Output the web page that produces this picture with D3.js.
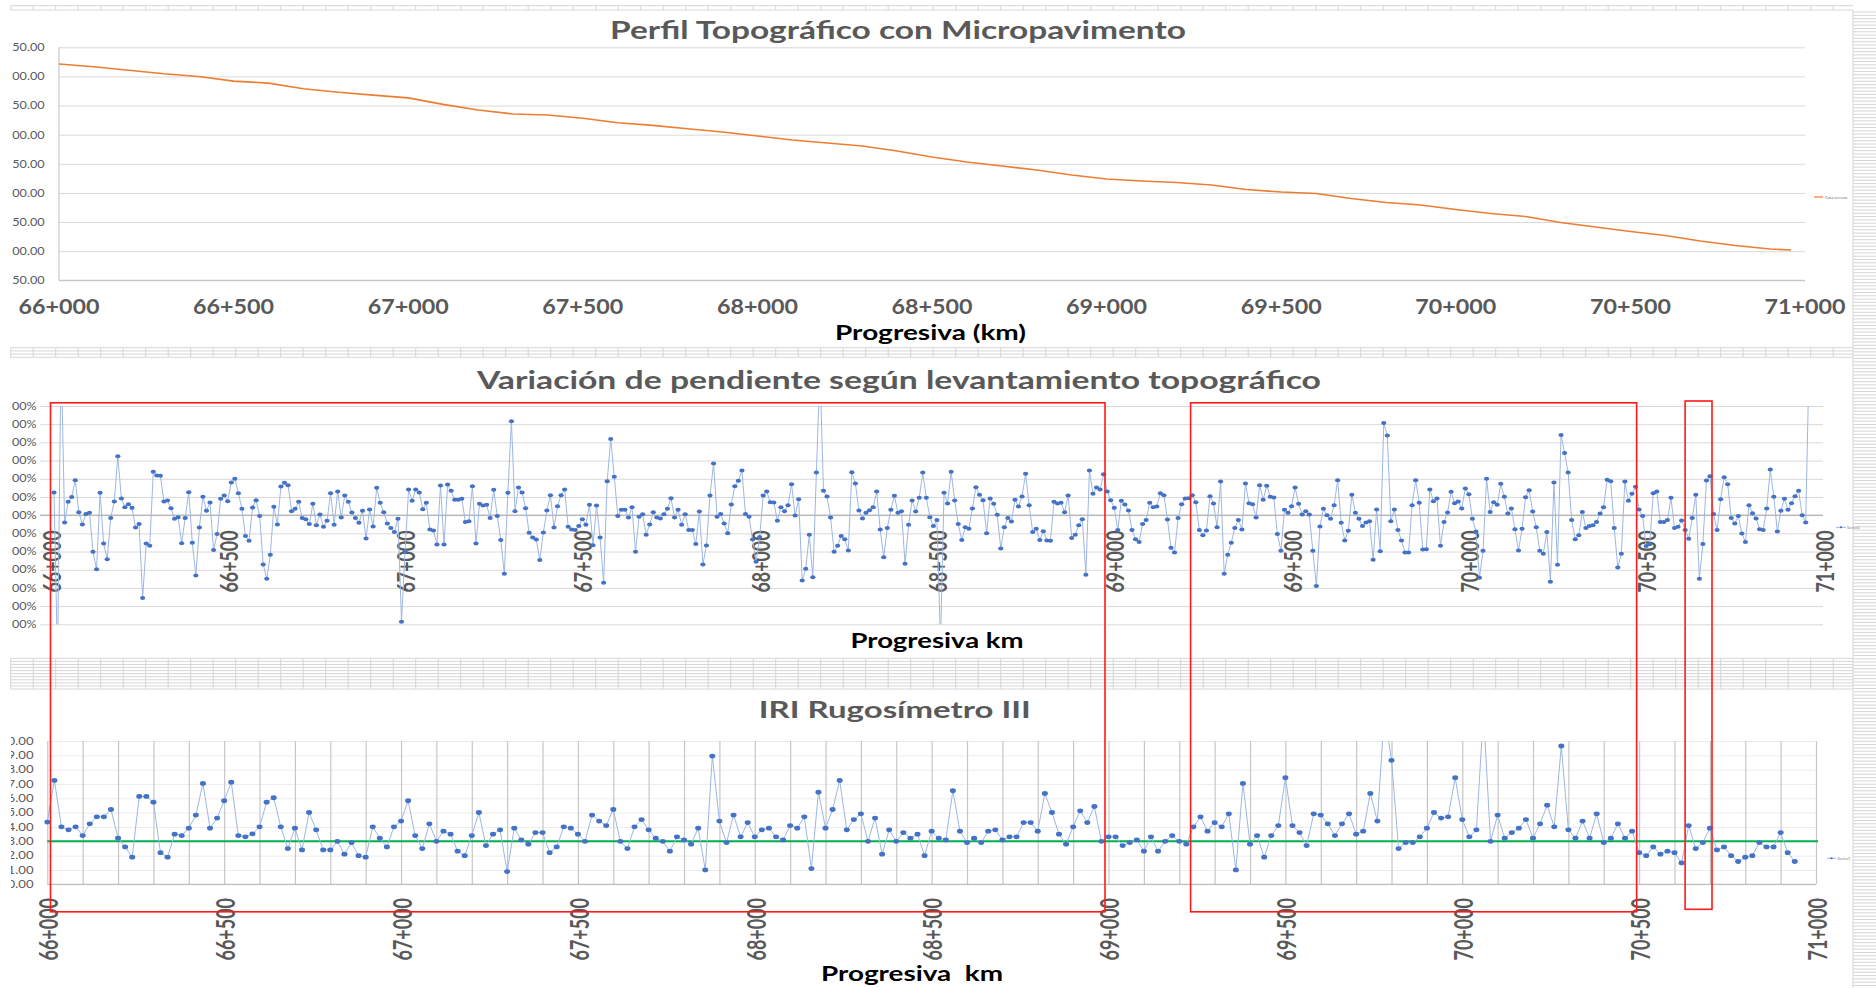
<!DOCTYPE html>
<html>
<head>
  <meta charset="utf-8">
  <script src="https://d3js.org/d3.v7.min.js"></script>
  <style>
  html, body {
    margin: 0px;
    padding: 0px;
    background: #fff;
  }
  svg {
    display: block;
    font-family: Lato, "Open Sans", sans-serif;
  }
  </style>
</head>
<body>
  <svg id="chart" width="1876" height="988"></svg>
  <script>

  // ---- data ----
  var kmTicks = [66000, 66500, 67000, 67500, 68000, 68500, 69000, 69500, 70000, 70500, 71000];

  // top chart: terrain elevation (m) along the road
  var elevStations = [66000, 66100, 66200, 66300, 66400, 66500, 66600, 66700, 66800, 66900,
    67000, 67100, 67200, 67300, 67400, 67500, 67600, 67700, 67800, 67900,
    68000, 68100, 68200, 68300, 68400, 68500, 68600, 68700, 68800, 68900,
    69000, 69100, 69200, 69300, 69400, 69500, 69600, 69700, 69800, 69900,
    70000, 70100, 70200, 70300, 70400, 70500, 70600, 70700, 70800, 70900, 70960];
  var elevValues = [2821.3, 2816.7, 2810.7, 2804.5, 2800.0, 2792.0, 2788.5, 2778.9, 2772.7, 2767.9,
    2763.1, 2752.0, 2742.4, 2735.5, 2733.8, 2728.1, 2720.4, 2715.9, 2710.1, 2704.6,
    2697.7, 2690.9, 2685.7, 2680.6, 2672.0, 2661.7, 2653.1, 2646.2, 2639.3, 2630.8,
    2623.9, 2620.5, 2617.9, 2613.6, 2605.9, 2601.6, 2599.0, 2590.4, 2583.6, 2579.3,
    2571.6, 2564.7, 2559.5, 2549.2, 2541.5, 2533.8, 2526.9, 2517.5, 2509.8, 2503.7, 2502.0];
  var elevTicks = [2450, 2500, 2550, 2600, 2650, 2700, 2750, 2800, 2850];

  // middle chart: slope variation (%) every 10 m from 66+000
  var slopeStart = 66000, slopeStep = 10;
  var slopeValues = [
    1.25, -8, 9, -0.4, 0.73, 1.0, 1.92, 0.16, -0.51, 0.07,
    0.13, -2.01, -2.97, 1.23, -1.56, -2.42, -0.15, 0.75, 3.24, 0.92,
    0.44, 0.6, 0.4, -0.68, -0.48, -4.56, -1.56, -1.68, 2.38, 2.18,
    2.16, 0.75, 0.81, 0.38, -0.2, -0.11, -1.54, -0.16, 1.26, -1.52,
    -3.32, -0.68, 1.01, 0.24, 0.7, -1.92, -1.04, 0.9, 1.08, 0.77,
    1.79, 2.0, 1.21, 0.35, -1.15, -1.41, 0.42, 0.82, -0.05, -2.71,
    -3.5, -2.18, 0.46, -0.51, 1.58, 1.78, 1.65, 0.22, 0.35, 0.73,
    -0.16, -0.22, -0.48, 0.62, -0.55, 0.04, -0.64, -0.31, 1.21, -0.53,
    1.3, -0.13, 1.08, 0.73, 0.15, -0.16, -0.42, 0.24, -1.28, 0.31,
    -0.62, 1.5, 0.68, 0.16, -0.46, -0.71, -0.92, -0.2, -5.86, -2.0,
    1.41, 0.79, 1.41, 1.25, 0.33, 0.68, -0.79, -0.84, -1.61, 1.63,
    -1.61, 1.68, 1.34, 0.84, 0.84, 0.9, -0.37, -0.33, 1.59, -1.56,
    0.62, 0.53, 0.57, -0.15, 1.39, -0.04, -1.37, -3.22, 1.23, 5.16,
    0.22, 1.52, 1.25, 0.38, -0.97, -1.23, -1.34, -2.47, -0.95, 0.26,
    1.1, -0.68, 0.49, 1.1, 1.41, -0.64, -0.79, -0.81, -0.6, -0.22,
    -0.53, 0.57, -1.65, 0.53, -1.23, -3.72, 1.87, 4.19, 2.11, -0.05,
    0.29, 0.29, -0.13, 0.44, -2.01, -0.09, 0.05, -1.08, -0.51, 0.16,
    -0.13, -0.18, 0.05, 0.35, 0.93, -0.13, 0.29, -0.53, 0.05, -0.81,
    -0.81, -1.58, 0.2, -2.71, -1.67, 1.08, 2.84, -0.09, 0.07, -0.46,
    -0.99, 0.59, 1.59, 1.89, 2.45, 0.07, -0.09, -1.34, -2.56, -1.2,
    1.08, 1.3, 0.71, 0.7, -0.31, 0.44, 0.22, 0.55, 1.7, -0.02,
    0.88, -3.59, -2.95, -1.08, -3.42, 2.34, 8, 1.34, 1.03, -0.13,
    -2.01, -1.68, -1.14, -1.32, -1.94, 2.36, 1.74, 0.26, -0.18, 0.13,
    0.27, 0.44, 1.3, -0.79, -2.31, -0.7, 0.29, 1.06, 0.13, 0.22,
    -2.67, -0.53, 0.81, 0.2, 0.95, 2.34, 0.95, -0.11, -0.6, -0.27,
    -7, 1.23, 0.64, 2.38, 0.81, -0.49, -1.36, -0.66, -0.75, 0.37,
    1.54, 1.12, 0.82, -0.99, 0.92, 0.62, 0.02, -1.83, -0.66, -0.15,
    -0.35, 0.84, 0.48, 1.03, 2.27, 0.55, -0.93, -0.75, -1.36, -0.88,
    -1.39, -1.41, 0.73, 0.64, 0.68, 0.16, 1.08, -1.25, -1.08, -0.55,
    -0.22, -3.28, 2.45, 1.17, 1.52, 1.41, 2.25, 1.3, 0.82, 0.4,
    -0.81, 0.79, 0.59, 0.26, -0.82, -1.32, -1.48, -0.49, -0.27, 0.68,
    0.44, 0.48, 1.21, 1.1, -0.24, -1.79, -2.05, -0.16, 0.6, 0.92,
    0.93, 1.1, 0.71, -0.82, -1.1, -0.84, 1.04, 0.64, -0.66, 1.85,
    -3.22, -2.18, -1.52, -0.7, -0.26, -0.79, 1.74, 0.66, 0.6, -0.13,
    1.65, 0.84, 1.61, 1.01, 0.97, -1.03, -1.96, 0.29, 0.13, 0.49,
    1.52, 0.62, 0.04, 0.22, 0.04, -1.96, -3.9, -0.62, 0.35, 0,
    -0.2, 0.55, 1.92, -0.42, -1.39, -0.86, 1.12, 0.13, -0.2, -0.6,
    -0.4, -0.33, -2.45, 0.31, -1.98, 5.07, 4.38, -0.33, 0.31, -0.82,
    -1.39, -2.05, -2.05, 0.55, 1.92, 0.68, -1.89, -1.87, 1.41, 0.77,
    0.92, -1.68, -0.38, 0.15, 1.28, 0.66, 0.75, 0.37, 1.47, 1.15,
    -0.2, -0.9, -3.44, -1.96, 2.0, 0.18, 0.71, 0.57, 1.72, 1.01,
    0.09, 0.37, -0.77, -1.94, -0.75, 0.99, 1.37, 0.2, -0.66, -1.96,
    -2.12, -0.92, -3.66, 1.79, -2.73, 4.41, 3.41, 2.34, -0.27, -1.32,
    -1.1, 0.18, -0.7, -0.6, -0.55, -0.37, 0.09, 0.44, 1.94, 1.87,
    -0.7, -2.88, -2.12, 1.85, 0.79, 1.17, 1.56, 0.31, -0.05, -1.7,
    -1.6, 1.21, 1.3, -0.38, -0.38, -0.27, 0.95, -0.7, -0.64, -0.29,
    -0.81, -1.3, -0.15, 1.12, -3.5, -1.58, 1.9, 2.14, 0.07, -0.82,
    0.88, 2.09, 1.7, -0.16, -0.46, -0.05, -1.01, -1.47, 0.55, 0.11,
    -0.18, -0.77, -0.82, 0.37, 2.51, 1.01, -0.9, 0.24, 0.9, 0.29,
    0.66, 1.04, 1.34, 0, -0.4, 9];
  var slopeTicks = [-6, -5, -4, -3, -2, -1, 0, 1, 2, 3, 4, 5, 6];

  // bottom chart: IRI (m/km) every 20 m from 66+000, limit line at 3.0
  var iriStart = 66000, iriStep = 20;
  var iriValues = [
    4.34, 7.25, 4.01, 3.8, 4.01, 3.4, 4.22, 4.71, 4.71, 5.22,
    3.22, 2.61, 1.89, 6.13, 6.13, 5.73, 2.21, 1.89, 3.5, 3.4,
    3.92, 4.83, 7.04, 3.92, 4.62, 5.83, 7.13, 3.4, 3.31, 3.52,
    4.01, 5.73, 6.04, 4.01, 2.49, 3.92, 2.4, 5.01, 3.8, 2.4,
    2.4, 3.0, 2.1, 2.91, 2.0, 1.89, 4.01, 3.22, 2.61, 4.01,
    4.41, 5.83, 3.4, 2.49, 4.22, 3.0, 3.71, 3.5, 2.31, 2.0,
    3.4, 5.01, 2.7, 3.5, 3.8, 0.89, 3.92, 3.1, 2.8, 3.61,
    3.61, 2.21, 2.61, 4.01, 3.92, 3.5, 3.0, 4.83, 4.41, 4.1,
    5.22, 3.0, 2.49, 4.01, 4.52, 3.8, 3.22, 3.0, 2.31, 3.31,
    3.1, 2.8, 3.92, 1.0, 8.95, 4.41, 2.91, 4.83, 3.31, 4.31,
    3.31, 3.8, 3.92, 3.31, 3.1, 4.1, 3.92, 4.71, 1.1, 6.43,
    3.92, 5.22, 7.25, 3.8, 4.52, 4.92, 3.0, 4.62, 2.1, 3.8,
    3.0, 3.61, 3.22, 3.5, 2.0, 3.71, 3.22, 3.1, 6.53, 3.71,
    2.91, 3.22, 2.91, 3.71, 3.8, 3.1, 3.31, 3.31, 4.31, 4.31,
    3.71, 6.34, 5.01, 3.5, 2.8, 4.01, 5.13, 4.31, 5.43, 3.0,
    3.31, 3.31, 2.7, 2.91, 3.1, 2.31, 3.31, 2.31, 3.0, 3.4,
    3.0, 2.8, 4.01, 4.71, 3.71, 4.31, 4.01, 4.92, 1.0, 7.04,
    2.8, 3.4, 1.89, 3.4, 4.1, 7.44, 4.1, 3.61, 2.7, 4.92,
    4.83, 4.22, 3.4, 4.22, 4.92, 3.5, 3.71, 6.34, 4.41, 12,
    8.65, 2.49, 2.91, 2.91, 3.31, 3.92, 5.01, 4.62, 4.71, 7.44,
    4.52, 3.31, 3.8, 12, 3.0, 4.83, 3.22, 3.61, 3.92, 4.52,
    3.22, 4.22, 5.52, 4.01, 9.65, 3.8, 3.22, 4.41, 3.22, 4.92,
    2.91, 3.22, 4.22, 3.22, 3.71, 2.21, 2.0, 2.61, 2.1, 2.31,
    2.21, 1.49, 4.1, 2.49, 2.91, 3.92, 2.4, 2.61, 2.0, 1.59,
    1.89, 2.0, 2.91, 2.61, 2.61, 3.61, 2.21, 1.59];
  var iriLimit = 3.0;
  var iriTicks = [0, 1, 2, 3, 4, 5, 6, 7, 8, 9, 10];

  // red boxes drawn over the charts (start, end station on IRI axis)
  var highlightBoxes = [[66009, 68990], [69232, 70493], [70630, 70706]];

  var slopeData = slopeValues.map(function(v, i) { return [slopeStart + i * slopeStep, v]; });
  var iriData = iriValues.map(function(v, i) { return [iriStart + i * iriStep, v]; });

  function kmFmt(d) {
    return Math.floor(d / 1000) + "+" + d3.format("03")(d % 1000);
  }

  var svg = d3.select("#chart");
  var GREY = "#595959";
  var SX = 1.25; // the screenshot is a bit stretched sideways

  svg.append("rect").attr("width", 1876).attr("height", 988).attr("fill", "#fff");

  // ---- spreadsheet cells peeking between the charts ----
  var sheet = svg.append("g").attr("stroke", "#d6d6d6").attr("stroke-width", 1);
  var strips = [[5.7, 10, 2], [347.7, 357.3, 4], [658.3, 689, 11]];
  strips.forEach(function(s) {
    d3.range(s[2]).forEach(function(k) {
      var y = s[0] + k * (s[1] - s[0]) / (s[2] - 1);
      sheet.append("line").attr("x1", 10.7).attr("x2", 1853).attr("y1", y).attr("y2", y);
    });
    d3.range(10.7, 1853, 22.5).forEach(function(x) {
      sheet.append("line").attr("x1", x).attr("x2", x).attr("y1", s[0]).attr("y2", s[1]);
    });
  });
  d3.range(12, 988, 3.3).forEach(function(y) {
    sheet.append("line").attr("x1", 1853).attr("x2", 1876).attr("y1", y).attr("y2", y);
  });
  sheet.append("line").attr("x1", 1853).attr("x2", 1853).attr("y1", 10).attr("y2", 988);

  function title(txt, cx, y, size, len, color) {
    svg.append("text")
      .attr("x", cx).attr("y", y)
      .attr("text-anchor", "middle")
      .attr("font-size", size).attr("font-weight", "bold")
      .attr("fill", color)
      .attr("textLength", len).attr("lengthAdjust", "spacingAndGlyphs")
      .style("white-space", "pre")
      .text(txt);
  }

  // ================= top: Perfil Topográfico =================
  var xTop = d3.scaleLinear().domain([66000, 71000]).range([59, 1805]);
  var yTop = d3.scaleLinear().domain([2450, 2850]).range([280.3, 47.3]);
  var gT = svg.append("g");

  gT.append("g")
    .attr("transform", "translate(59,0)")
    .call(d3.axisLeft(yTop).tickValues(elevTicks).tickSize(-(1805 - 59)).tickFormat(""))
    .call(function(g) {
      g.select(".domain").remove();
      g.selectAll("line").attr("stroke", "#d9d9d9");
    });
  gT.append("line").attr("x1", 59).attr("x2", 1805).attr("y1", yTop(2450)).attr("y2", yTop(2450)).attr("stroke", "#bfbfbf");
  gT.append("line").attr("x1", 59).attr("x2", 59).attr("y1", yTop(2850)).attr("y2", yTop(2450)).attr("stroke", "#bfbfbf");

  gT.selectAll("text.yl").data(elevTicks).join("text")
    .attr("class", "yl")
    .attr("transform", function(d) { return "translate(44.6," + yTop(d) + ") scale(1.15,1)"; })
    .attr("text-anchor", "end").attr("dy", "0.35em")
    .attr("font-size", 11).attr("fill", GREY)
    .text(function(d) { return d3.format(".2f")(d).slice(-5); });

  gT.selectAll("text.xl").data(kmTicks).join("text")
    .attr("class", "xl")
    .attr("x", function(d) { return xTop(d); }).attr("y", 314.3)
    .attr("text-anchor", "middle")
    .attr("font-size", 20).attr("font-weight", "bold").attr("fill", GREY)
    .attr("textLength", 81).attr("lengthAdjust", "spacingAndGlyphs")
    .text(kmFmt);

  gT.append("path")
    .datum(d3.zip(elevStations, elevValues))
    .attr("d", d3.line().x(function(d) { return xTop(d[0]); }).y(function(d) { return yTop(d[1]); }))
    .attr("fill", "none").attr("stroke", "#ed7d31").attr("stroke-width", 1.6);

  // tiny legend
  gT.append("line").attr("x1", 1814).attr("x2", 1823).attr("y1", 197).attr("y2", 197).attr("stroke", "#ed7d31").attr("stroke-width", 1.2);
  gT.append("text").attr("x", 1825).attr("y", 198.5).attr("font-size", 4).attr("fill", "#777").text("Cota terreno");

  title("Perfil Topográfico con Micropavimento", 898, 39.4, 24, 576, GREY);
  title("Progresiva (km)", 930.5, 339.7, 20, 191, "#000");

  // ================= middle: Variación de pendiente =================
  var xSl = d3.scaleLinear().domain([66000, 71000]).range([54, 1827]);
  var ySl = d3.scaleLinear().domain([-6, 6]).range([624.3, 406]);
  var gM = svg.append("g");

  gM.append("g")
    .attr("transform", "translate(40,0)")
    .call(d3.axisLeft(ySl).tickValues(slopeTicks).tickSize(-(1823 - 40)).tickFormat(""))
    .call(function(g) {
      g.select(".domain").remove();
      g.selectAll("line").attr("stroke", "#d9d9d9");
    });
  gM.append("line").attr("x1", 40).attr("x2", 1823).attr("y1", ySl(0)).attr("y2", ySl(0)).attr("stroke", "#a6a6a6");

  gM.selectAll("text.yl").data(slopeTicks).join("text")
    .attr("class", "yl")
    .attr("transform", function(d) { return "translate(36.6," + ySl(d) + ") scale(1.2,1)"; })
    .attr("text-anchor", "end").attr("dy", "0.35em")
    .attr("font-size", 10.5).attr("fill", GREY)
    .text(function(d) { return (d3.format(".2f")(d) + "%").slice(-3); });

  gM.selectAll("text.xl").data(kmTicks).join("text")
    .attr("class", "xl")
    .attr("transform", function(d) { return "translate(" + (xSl(d) - 2.5) + ",530.5) rotate(-90)"; })
    .attr("text-anchor", "end").attr("dy", "0.36em")
    .attr("font-size", 25).attr("font-weight", "bold").attr("fill", GREY)
    .attr("textLength", 62).attr("lengthAdjust", "spacingAndGlyphs")
    .text(kmFmt);

  svg.append("clipPath").attr("id", "clipSl")
    .append("rect").attr("x", 40).attr("y", 406).attr("width", 1783).attr("height", 218.3);
  var sSl = gM.append("g").attr("clip-path", "url(#clipSl)");
  sSl.append("path")
    .datum(slopeData)
    .attr("d", d3.line().x(function(d) { return xSl(d[0]); }).y(function(d) { return ySl(d[1]); }))
    .attr("fill", "none").attr("stroke", "#9db7e3").attr("stroke-width", 1);
  sSl.selectAll("ellipse").data(slopeData).join("ellipse")
    .attr("cx", function(d) { return xSl(d[0]); })
    .attr("cy", function(d) { return ySl(d[1]); })
    .attr("rx", 2.6).attr("ry", 2.0)
    .attr("fill", "#4472c4");

  gM.append("line").attr("x1", 1836).attr("x2", 1846).attr("y1", 527.3).attr("y2", 527.3).attr("stroke", "#9db7e3");
  gM.append("ellipse").attr("cx", 1841).attr("cy", 527.3).attr("rx", 1.2).attr("ry", 1).attr("fill", "#4472c4");
  gM.append("text").attr("x", 1847).attr("y", 528.6).attr("font-size", 4).attr("fill", "#777").text("Series1");

  title("Variación de pendiente según levantamiento topográfico", 899, 388.8, 25, 844, GREY);
  title("Progresiva km", 937, 648.3, 21, 173, "#000");

  // ================= bottom: IRI =================
  var xIri = d3.scaleLinear().domain([66000, 71000]).range([47.3, 1816]);
  var yIri = d3.scaleLinear().domain([0, 10]).range([884.3, 741]);
  var gB = svg.append("g");

  gB.append("g")
    .attr("transform", "translate(47.3,0)")
    .call(d3.axisLeft(yIri).tickValues(iriTicks).tickSize(-(1816 - 47.3)).tickFormat(""))
    .call(function(g) {
      g.select(".domain").remove();
      g.selectAll("line").attr("stroke", "#ececec");
    });
  gB.append("g")
    .attr("transform", "translate(0,884.3)")
    .call(d3.axisBottom(xIri).tickValues(d3.range(66000, 71001, 100)).tickSize(-(884.3 - 741)).tickFormat(""))
    .call(function(g) {
      g.select(".domain").remove();
      g.selectAll("line").attr("stroke", "#c6c6c6").attr("stroke-width", 1.2);
    });
  gB.append("line").attr("x1", 47.3).attr("x2", 1816).attr("y1", yIri(0)).attr("y2", yIri(0)).attr("stroke", "#bfbfbf").attr("stroke-width", 1.3);

  svg.append("clipPath").attr("id", "clipLab")
    .append("rect").attr("x", 11).attr("y", 730).attr("width", 40).attr("height", 170);
  gB.append("g").attr("clip-path", "url(#clipLab)")
    .selectAll("text").data(iriTicks).join("text")
    .attr("transform", function(d) { return "translate(33.5," + yIri(d) + ") scale(" + SX + ",1)"; })
    .attr("text-anchor", "end").attr("dy", "0.35em")
    .attr("font-size", 10.5).attr("fill", GREY)
    .text(function(d) { return d3.format(".2f")(d); });

  gB.selectAll("text.xl").data(kmTicks).join("text")
    .attr("class", "xl")
    .attr("transform", function(d) { return "translate(" + (xIri(d) + 1.4) + ",898) rotate(-90)"; })
    .attr("text-anchor", "end").attr("dy", "0.36em")
    .attr("font-size", 26).attr("font-weight", "bold").attr("fill", GREY)
    .attr("textLength", 62.5).attr("lengthAdjust", "spacingAndGlyphs")
    .text(kmFmt);

  gB.append("line")
    .attr("x1", 47.3).attr("x2", 1818)
    .attr("y1", yIri(iriLimit)).attr("y2", yIri(iriLimit))
    .attr("stroke", "#00b050").attr("stroke-width", 2);

  svg.append("clipPath").attr("id", "clipIri")
    .append("rect").attr("x", 40).attr("y", 741).attr("width", 1780).attr("height", 150);
  var sIri = gB.append("g").attr("clip-path", "url(#clipIri)");
  sIri.append("path")
    .datum(iriData)
    .attr("d", d3.line().x(function(d) { return xIri(d[0]); }).y(function(d) { return yIri(d[1]); }))
    .attr("fill", "none").attr("stroke", "#9db7e3").attr("stroke-width", 1);
  sIri.selectAll("ellipse").data(iriData).join("ellipse")
    .attr("cx", function(d) { return xIri(d[0]); })
    .attr("cy", function(d) { return yIri(d[1]); })
    .attr("rx", 3.0).attr("ry", 2.4)
    .attr("fill", "#4472c4");

  gB.append("line").attr("x1", 1827).attr("x2", 1836).attr("y1", 858.3).attr("y2", 858.3).attr("stroke", "#9db7e3");
  gB.append("ellipse").attr("cx", 1831.5).attr("cy", 858.3).attr("rx", 1.2).attr("ry", 1).attr("fill", "#4472c4");
  gB.append("text").attr("x", 1837.5).attr("y", 859.6).attr("font-size", 4).attr("fill", "#777").text("Series1");

  title("IRI Rugosímetro III", 894.8, 718.4, 23, 272, GREY);
  title("Progresiva  km", 912, 981, 21, 182, "#000");

  // ---- red highlight boxes across slope + IRI charts ----
  svg.selectAll("rect.box").data(highlightBoxes).join("rect")
    .attr("class", "box")
    .attr("x", function(d) { return xIri(d[0]); })
    .attr("y", function(d, i) { return i === 2 ? 401 : 402.8; })
    .attr("width", function(d) { return xIri(d[1]) - xIri(d[0]); })
    .attr("height", function(d, i) { return i === 2 ? 508.3 : 509; })
    .attr("fill", "none").attr("stroke", "#ff1a1a").attr("stroke-width", 1.6);

  </script>
</body>
</html>
